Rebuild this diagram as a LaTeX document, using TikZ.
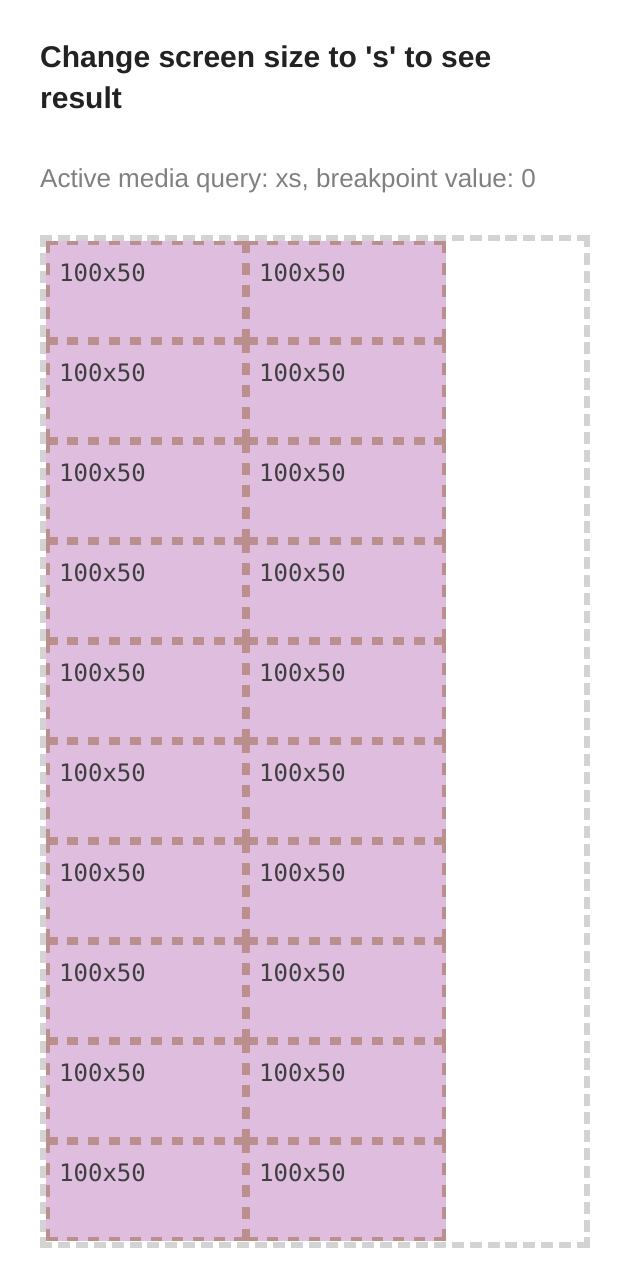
\documentclass[tikz,border=0pt]{standalone}
\usepackage{fontspec}
\setmainfont{Liberation Sans}
\newfontfamily\monofont{DejaVu Sans Mono}
\usetikzlibrary{positioning}
\definecolor{c1}{HTML}{DFBDDF}
\definecolor{c2}{HTML}{BC8F8F}
\definecolor{c3}{HTML}{D3D3D3}
\definecolor{c4}{HTML}{222222}
\definecolor{c5}{HTML}{808080}
\definecolor{c6}{HTML}{3F3F3F}
\frenchspacing

\begin{document}
\begin{tikzpicture}
[x=1pt,y=-1pt,
box/.style={draw=c3,line width=6pt,dash pattern=on 12pt off 5.9pt},
cell/.style={fill=c1,minimum width=200pt,minimum height=100pt,inner sep=0pt,outer sep=0pt},
rimh/.style={draw=c2,line width=4pt,dash pattern=on 11.5pt off 9.44pt},
rimv/.style={draw=c2,line width=4pt,dash pattern=on 12pt off 10pt},
head/.style={anchor=base west,inner sep=0pt,text=c4,font=\bfseries\fontsize{30}{30}\selectfont},
info/.style={anchor=base west,inner sep=0pt,text=c5,font=\fontsize{26}{26}\selectfont},
lbl/.style={anchor=base west,inner sep=0pt,text=c6,font=\monofont\fontsize{24}{24}\selectfont}]
\useasboundingbox (0,0) rectangle (618,1288);
%%%%%%%%%%
\newcommand{\rims}[1]{
\draw[rimh] ([shift={(0,2)}]#1.north west) -- ([shift={(0,2)}]#1.north east);
\draw[rimh] ([shift={(0,-2)}]#1.south west) -- ([shift={(0,-2)}]#1.south east);
\draw[rimv] ([shift={(2,0)}]#1.north west) -- ([shift={(2,0)}]#1.south west);
\draw[rimv] ([shift={(-2,0)}]#1.north east) -- ([shift={(-2,0)}]#1.south east);
}
%%%%%%%%%%

%% heading
\node[head] (title) at (40,67) {Change screen size to \textquotesingle s\textquotesingle{} to see};
\node[head] (title2) at (40,108.5) {result};
\node[info] (query) at (40,187) {Active media query: xs, breakpoint value: 0};

%% container
\draw[box] (40,238) -- (590,238);
\draw[box] (40,1245) -- (590,1245);
\draw[box] (43,235) -- (43,1248);
\draw[box] (587,235) -- (587,1248);

%% cells
\foreach \r in {0,...,9}
\foreach \c in {0,1}
{
\node[cell] (c\r\c) at ({146+200*\c},{291+100*\r}) {};
\rims{c\r\c}
\node[lbl] (t\r\c) at ([shift={(13,40)}]c\r\c.north west) {100x50};
}
\end{tikzpicture}
\end{document}
